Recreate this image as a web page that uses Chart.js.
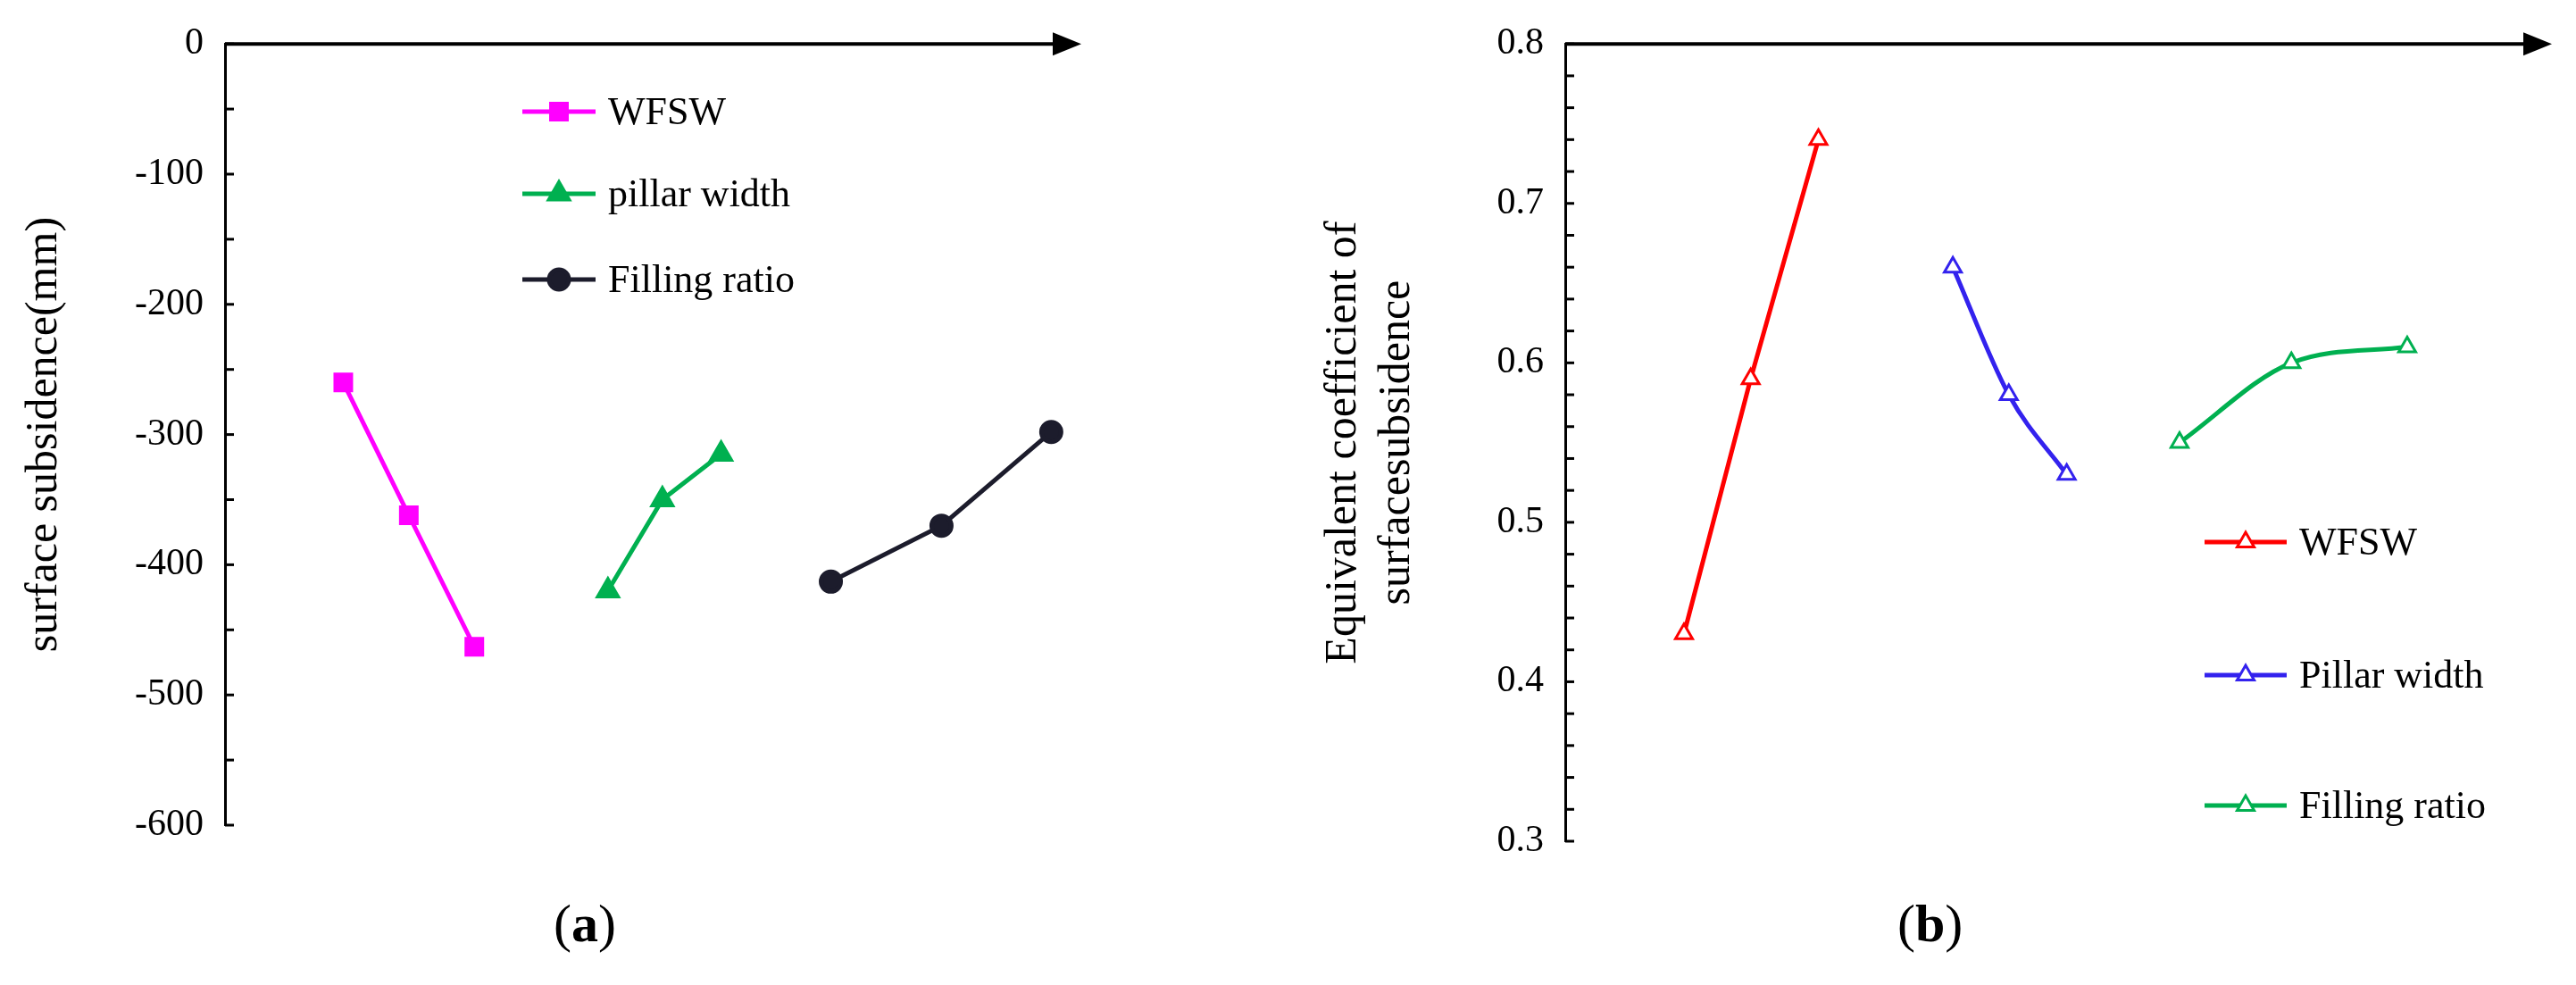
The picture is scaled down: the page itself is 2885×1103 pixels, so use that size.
<!DOCTYPE html>
<html>
<head>
<script src="https://cdn.jsdelivr.net/npm/chart.js@4"></script>
<style>
body { margin:0; background:#fff; width:2885px; height:1103px; overflow:hidden; position:relative; }
canvas { position:absolute; top:0; }
#ca { left:0; } #cb { left:1420px; }
.lab { position:absolute; top:1000px; font:60px "Liberation Serif", serif; }
</style>
</head>
<body>
<canvas id="ca" width="1240" height="1103"></canvas>
<canvas id="cb" width="1465" height="1103"></canvas>
<div class="lab" style="left:620px">(<b>a</b>)</div>
<div class="lab" style="left:2125px">(<b>b</b>)</div>
<script>
// panel (a) - x positions are read as % along the axis
var aWfswX = [13.9, 21.6, 29.3];
var aWfswY = [-260, -362, -463];
var aPillarX = [45.0, 51.4, 58.3];
var aPillarY = [-420, -350, -315];
var aFillX = [71.2, 84.2, 97.1];
var aFillY = [-413, -370, -298];
// panel (b)
var bWfswX = [12.1, 18.9, 25.8];
var bWfswY = [0.43, 0.59, 0.74];
var bPillarX = [39.5, 45.2, 51.1];
var bPillarY = [0.66, 0.58, 0.53];
var bFillX = [62.6, 74.0, 85.8];
var bFillY = [0.55, 0.60, 0.61];

var FONT = '"Liberation Serif", "DejaVu Serif", serif';
Chart.defaults.font.family = FONT;
function pts(xs, ys) { return xs.map(function (x, i) { return {x: x, y: ys[i]}; }); }

// axes + arrow + inner minor ticks + legend
function deco(step, legend) {
  return {
    id: 'deco',
    afterDraw: function (c) {
      var g = c.ctx, a = c.chartArea, y = c.scales.y;
      g.save();
      g.strokeStyle = '#000'; g.fillStyle = '#000'; g.lineWidth = 4;
      g.beginPath(); g.moveTo(a.left, a.top); g.lineTo(a.right - 20, a.top); g.stroke();
      g.beginPath(); g.moveTo(a.right + 6, a.top); g.lineTo(a.right - 26, a.top - 13); g.lineTo(a.right - 26, a.top + 13); g.closePath(); g.fill();
      g.lineWidth = 3;
      for (var v = y.min; v <= y.max + 1e-9; v += step) {
        var py = y.getPixelForValue(v);
        g.beginPath(); g.moveTo(a.left, py); g.lineTo(a.left + 10, py); g.stroke();
      }
      legend.items.forEach(function (it, i) {
        var ds = c.data.datasets[i], ly = legend.y[i];
        g.strokeStyle = ds.borderColor; g.lineWidth = ds.borderWidth;
        g.beginPath(); g.moveTo(legend.x, ly); g.lineTo(legend.x + legend.w, ly); g.stroke();
        var m = c.getDatasetMeta(i).data[0];
        var mx = legend.x + legend.w / 2;
        var ox = m.x, oy = m.y; m.x = mx; m.y = ly; m.draw(g); m.x = ox; m.y = oy;
        g.fillStyle = '#000'; g.font = '44px ' + FONT; g.textBaseline = 'middle';
        g.fillText(it, legend.x + legend.w + 14, ly + 2);
      });
      g.restore();
    }
  };
}

function opts(pad, yMin, yMax, yStep, yW, title, fmt) {
  return {
    responsive: false, animation: false,
    layout: { padding: pad },
    plugins: { legend: { display: false }, tooltip: { enabled: false } },
    scales: {
      x: { type: 'linear', min: 0, max: 100, display: false },
      y: {
        min: yMin, max: yMax,
        afterFit: function (s) { s.width = yW; },
        grid: { display: false, drawTicks: false },
        border: { display: true, color: '#000', width: 3 },
        ticks: { stepSize: yStep, color: '#000', padding: 24, font: { family: FONT, size: 42 }, callback: fmt },
        title: { display: true, text: title, color: '#000', font: { family: FONT, size: 50 }, padding: 0 }
      }
    }
  };
}

new Chart(document.getElementById('ca'), {
  type: 'line',
  data: { datasets: [
    { data: pts(aWfswX, aWfswY), borderColor: '#ff00ff', backgroundColor: '#ff00ff', borderWidth: 5, pointStyle: 'rect', pointRadius: 12 },
    { data: pts(aPillarX, aPillarY), borderColor: '#00b050', backgroundColor: '#00b050', borderWidth: 5, pointStyle: 'triangle', pointRadius: 12 },
    { data: pts(aFillX, aFillY), borderColor: '#1c1c2c', backgroundColor: '#1c1c2c', borderWidth: 5, pointStyle: 'circle', pointRadius: 11 }
  ] },
  options: opts({ top: 33, bottom: 179, right: 35, left: 20 }, -600, 0, 100, 232, 'surface subsidence(mm)', function (v) { return v; }),
  plugins: [deco(50, { items: ['WFSW', 'pillar width', 'Filling ratio'], x: 585, w: 82, y: [125, 217, 313] })]
});

new Chart(document.getElementById('cb'), {
  type: 'line',
  data: { datasets: [
    { data: pts(bWfswX, bWfswY), borderColor: '#ff0000', backgroundColor: '#fff', borderWidth: 5, pointStyle: 'triangle', pointRadius: 11, pointBorderWidth: 3 },
    { data: pts(bPillarX, bPillarY), borderColor: '#3322ee', backgroundColor: '#fff', borderWidth: 5, pointStyle: 'triangle', pointRadius: 11, pointBorderWidth: 3, cubicInterpolationMode: 'monotone' },
    { data: pts(bFillX, bFillY), borderColor: '#00b050', backgroundColor: '#fff', borderWidth: 5, pointStyle: 'triangle', pointRadius: 11, pointBorderWidth: 3, cubicInterpolationMode: 'monotone' }
  ] },
  options: opts({ top: 37, bottom: 161, right: 33, left: 55 }, 0.3, 0.8, 0.1, 278, ['Equivalent coefficient of', 'surfacesubsidence'], function (v) { return v.toFixed(1); }),
  plugins: [deco(0.02, { items: ['WFSW', 'Pillar width', 'Filling ratio'], x: 2469 - 1420, w: 92, y: [607, 756, 902] })]
});
</script>
</body>
</html>
